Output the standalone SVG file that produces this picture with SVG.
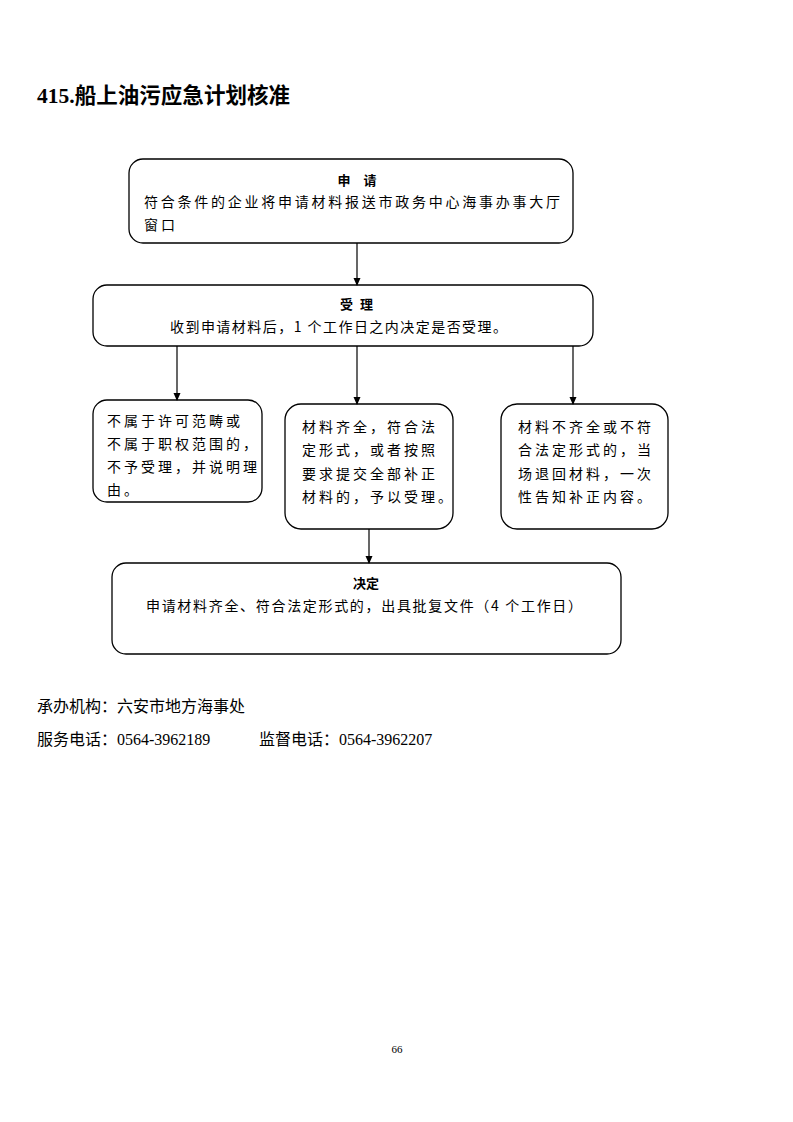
<svg xmlns="http://www.w3.org/2000/svg" width="793" height="1122" viewBox="0 0 793 1122">
<style>
.box{fill:#fff;stroke:#000;stroke-width:1.3}
.t{font-family:"Noto Sans CJK SC",sans-serif;font-size:14px;fill:#000;letter-spacing:3px}
.h{font-family:"Noto Sans CJK SC",sans-serif;font-size:13px;font-weight:bold;fill:#000}
.f{font-family:"Liberation Serif","Noto Sans CJK SC",serif;font-size:16px;fill:#000}
.c{stroke:#000;stroke-width:1.2;fill:none}
</style>
<defs>
<marker id="ah" markerWidth="8" markerHeight="8" refX="7" refY="4" orient="auto" markerUnits="userSpaceOnUse">
<path d="M0,0.5 L8,4 L0,7.5 Z" fill="#000"/>
</marker>
</defs>
<rect width="793" height="1122" fill="#fff"/>
<text x="37" y="103" font-family="Liberation Serif,'Noto Sans CJK SC',serif" font-size="21.5" font-weight="bold" fill="#000" textLength="253" lengthAdjust="spacing">415.船上油污应急计划核准</text>

<g id="n1">
<rect class="box" x="129" y="159" width="444" height="84" rx="14"/>
<text class="h" x="357" y="185" text-anchor="middle" xml:space="preserve">申　请</text>
<text class="t" x="144" y="207" textLength="419" lengthAdjust="spacing">符合条件的企业将申请材料报送市政务中心海事办事大厅</text>
<text class="t" x="144" y="230">窗口</text>
</g>

<g id="n2">
<rect class="box" x="93" y="285" width="500" height="61" rx="14"/>
<text class="h" x="360" y="309" text-anchor="middle" letter-spacing="7">受理</text>
<text class="t" x="170" y="332" textLength="340" lengthAdjust="spacing" xml:space="preserve">收到申请材料后，1 个工作日之内决定是否受理。</text>
</g>

<g id="n3">
<rect class="box" x="93" y="400" width="169" height="102" rx="14"/>
<text class="t" x="107" y="426">不属于许可范畴或</text>
<text class="t" x="107" y="449">不属于职权范围的，</text>
<text class="t" x="107" y="472">不予受理，并说明理</text>
<text class="t" x="107" y="495">由。</text>
</g>

<g id="n4">
<rect class="box" x="285" y="404" width="168" height="125" rx="16"/>
<text class="t" x="302" y="432">材料齐全，符合法</text>
<text class="t" x="302" y="455">定形式，或者按照</text>
<text class="t" x="302" y="479">要求提交全部补正</text>
<text class="t" x="302" y="502">材料的，予以受理。</text>
</g>

<g id="n5">
<rect class="box" x="501" y="404" width="167" height="125" rx="16"/>
<text class="t" x="518" y="432">材料不齐全或不符</text>
<text class="t" x="518" y="455">合法定形式的，当</text>
<text class="t" x="518" y="479">场退回材料，一次</text>
<text class="t" x="518" y="502">性告知补正内容。</text>
</g>

<g id="n6">
<rect class="box" x="112" y="563" width="509" height="91" rx="14"/>
<text class="h" x="366" y="588" text-anchor="middle">决定</text>
<text class="t" x="146" y="611" textLength="439" lengthAdjust="spacing" xml:space="preserve">申请材料齐全、符合法定形式的，出具批复文件（4 个工作日）</text>
</g>

<g id="connectors">
<line class="c" x1="357" y1="243" x2="357" y2="285" marker-end="url(#ah)"/>
<line class="c" x1="177" y1="346" x2="177" y2="400" marker-end="url(#ah)"/>
<line class="c" x1="357" y1="346" x2="357" y2="404" marker-end="url(#ah)"/>
<line class="c" x1="573" y1="346" x2="573" y2="404" marker-end="url(#ah)"/>
<line class="c" x1="369" y1="529" x2="369" y2="563" marker-end="url(#ah)"/>
</g>

<text class="f" x="37" y="712">承办机构：六安市地方海事处</text>
<text class="f" x="37" y="745">服务电话：0564-3962189</text>
<text class="f" x="259" y="745">监督电话：0564-3962207</text>
<text x="397" y="1053" font-family="Liberation Serif,serif" font-size="11" text-anchor="middle" fill="#000">66</text>
</svg>
